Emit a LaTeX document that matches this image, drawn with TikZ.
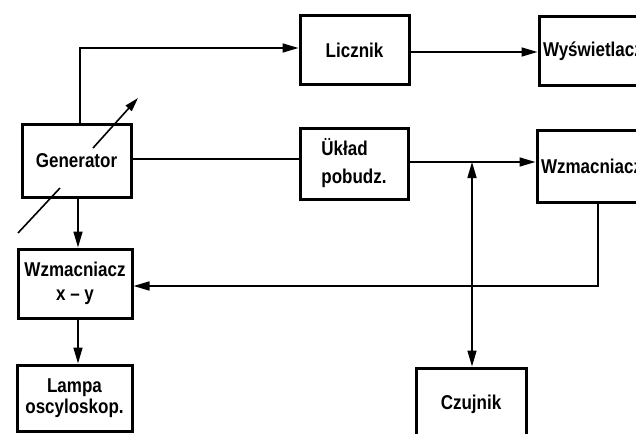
\documentclass[tikz,border=0pt]{standalone}
\usepackage{fontspec}
\setmainfont{Liberation Sans}[FakeStretch=0.85]
\usetikzlibrary{arrows.meta,calc}
\tikzset{
  box/.style={draw, line width=3pt, inner sep=0pt, align=center,
    font=\fontsize{20}{23}\selectfont\bfseries},
  conn/.style={line width=1.6pt},
  arr/.style={conn, -{Triangle[length=16pt,width=9pt]}},
  dblarr/.style={conn, {Triangle[length=16pt,width=9pt]}-{Triangle[length=16pt,width=9pt]}},
}
\begin{document}
\begin{tikzpicture}[x=1pt,y=-1pt]
\useasboundingbox (0,0) rectangle (636,433);
\clip (0,0) rectangle (636,433);

% boxes
\node[box, minimum width=109pt, minimum height=73pt] (gen) at (76.5,160.5) {Generator};
\node[box, minimum width=109pt, minimum height=69pt] (licz) at (354.5,50) {Licznik};
\node[box, minimum width=141pt, minimum height=69pt, inner xsep=4pt, text width=133pt, align=left] (wys) at (609.5,51.5) {Wyświetlacz};
\node[box, minimum width=108pt, minimum height=71pt, align=left] (ukl) at (354,163.5) {Ükład\\[5pt]pobudz.};
\node[box, minimum width=143pt, minimum height=72pt, inner xsep=4pt, text width=135pt, align=left] (wzm) at (608.5,166) {Wzmacniacz};
\node[box, minimum width=114pt, minimum height=69pt] (wxy) at (75,283.5) {Wzmacniacz\\[1pt]x -- y};
\node[box, minimum width=115pt, minimum height=66pt] (lampa) at (74.5,398) {Lampa\\[-2pt]oscyloskop.};
\node[box, minimum width=110pt, minimum height=72pt] (czu) at (471,404) {Czujnik};

% junction coordinates
\coordinate (g1) at (80,48);
\coordinate (l2) at (0,52);
\coordinate (c1) at (0,159);
\coordinate (c2) at (0,162);
\coordinate (j) at (472,162);
\coordinate (w1) at (598,286);
\coordinate (v1) at (78,0);

% connectors
\draw[arr] (gen.north -| g1) -- (g1) -- (licz.west |- g1);
\draw[arr] (licz.east |- l2) -- (wys.west |- l2);
\draw[conn] (gen.east |- c1) -- (ukl.west |- c1);
\draw[arr] (ukl.east |- c2) -- (wzm.west |- c2);
\draw[dblarr] (j) -- (czu.north -| j);
\draw[arr] (wzm.south -| w1) -- (w1) -- (wxy.east |- w1);
\draw[arr] (gen.south -| v1) -- (wxy.north -| v1);
\draw[arr] (wxy.south -| v1) -- (lampa.north -| v1);

% adjustable arrow across the generator
\coordinate (d1) at (18,233);
\coordinate (d2) at (60,188);
\coordinate (d3) at (93,148);
\coordinate (d4) at (138,98);
\draw[conn] (d1) -- (d2);
\draw[conn, -{Triangle[length=14pt,width=8pt]}] (d3) -- (d4);
\end{tikzpicture}
\end{document}
